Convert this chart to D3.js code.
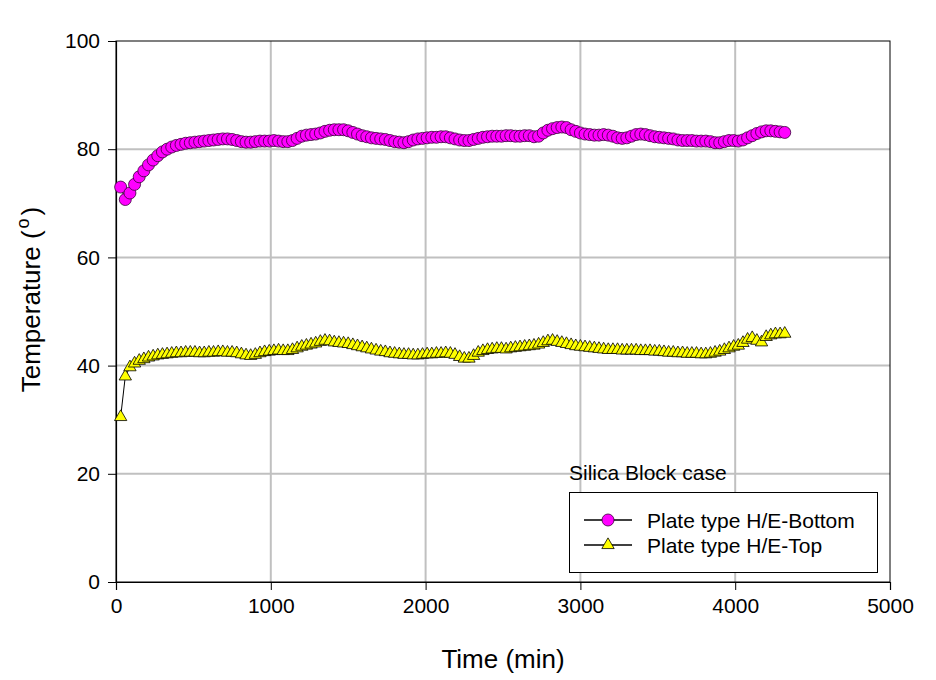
<!DOCTYPE html>
<html>
<head>
<meta charset="utf-8">
<script src="https://cdn.jsdelivr.net/npm/d3@7"></script>
<style>
  html, body { margin: 0; padding: 0; background: #fff; }
  svg { display: block; font-family: Arial, "Liberation Sans", sans-serif; }
</style>
</head>
<body>
<svg id="chart" width="936" height="680"></svg>
<script>
const timeMin = [
  30, 60, 90, 120, 150, 180, 210, 240, 270, 300,
  330, 360, 390, 420, 450, 480, 510, 540, 570, 600,
  630, 660, 690, 720, 750, 780, 810, 840, 870, 900,
  930, 960, 990, 1020, 1050, 1080, 1110, 1140, 1170, 1200,
  1230, 1260, 1290, 1320, 1350, 1380, 1410, 1440, 1470, 1500,
  1530, 1560, 1590, 1620, 1650, 1680, 1710, 1740, 1770, 1800,
  1830, 1860, 1890, 1920, 1950, 1980, 2010, 2040, 2070, 2100,
  2130, 2160, 2190, 2220, 2250, 2280, 2310, 2340, 2370, 2400,
  2430, 2460, 2490, 2520, 2550, 2580, 2610, 2640, 2670, 2700,
  2730, 2760, 2790, 2820, 2850, 2880, 2910, 2940, 2970, 3000,
  3030, 3060, 3090, 3120, 3150, 3180, 3210, 3240, 3270, 3300,
  3330, 3360, 3390, 3420, 3450, 3480, 3510, 3540, 3570, 3600,
  3630, 3660, 3690, 3720, 3750, 3780, 3810, 3840, 3870, 3900,
  3930, 3960, 3990, 4020, 4050, 4080, 4110, 4140, 4170, 4200,
  4230, 4260, 4290, 4320
];
const bottomTemp = [
  73.0, 70.7, 71.9, 73.5, 74.9, 76.0, 77.1, 78.0, 78.8, 79.5,
  80.0, 80.4, 80.7, 80.9, 81.1, 81.2, 81.3, 81.4, 81.5, 81.6,
  81.7, 81.8, 81.9, 81.9, 81.8, 81.6, 81.4, 81.3, 81.3, 81.4,
  81.5, 81.5, 81.5, 81.6, 81.5, 81.4, 81.4, 81.6, 82.0, 82.4,
  82.6, 82.7, 82.8, 83.0, 83.3, 83.5, 83.6, 83.6, 83.6, 83.4,
  83.1, 82.8, 82.5, 82.3, 82.1, 82.0, 81.9, 81.8, 81.6, 81.4,
  81.3, 81.2, 81.4, 81.7, 81.9, 82.0, 82.1, 82.2, 82.2, 82.3,
  82.3, 82.1, 81.9, 81.7, 81.6, 81.6, 81.8, 82.0, 82.2, 82.3,
  82.4, 82.4, 82.4, 82.5, 82.5, 82.4, 82.4, 82.5, 82.5, 82.3,
  82.4, 83.0, 83.5, 83.8, 84.0, 84.1, 84.0, 83.6, 83.3, 83.0,
  82.8, 82.7, 82.6, 82.6, 82.7, 82.6, 82.4, 82.1, 82.0, 82.1,
  82.4, 82.7, 82.8, 82.7, 82.5, 82.3, 82.2, 82.1, 82.0, 81.9,
  81.7, 81.6, 81.6, 81.6, 81.5, 81.5, 81.5, 81.4, 81.2, 81.2,
  81.4, 81.6, 81.6, 81.5, 81.7, 82.1, 82.5, 82.9, 83.2, 83.4,
  83.4, 83.3, 83.2, 83.1
];
const topTemp = [
  30.5, 38.0, 39.7, 40.4, 40.9, 41.2, 41.5, 41.7, 41.9, 42.0,
  42.1, 42.2, 42.3, 42.3, 42.4, 42.4, 42.4, 42.3, 42.3, 42.4,
  42.4, 42.5, 42.5, 42.4, 42.4, 42.3, 42.1, 41.9, 41.8, 42.0,
  42.3, 42.5, 42.6, 42.7, 42.8, 42.7, 42.7, 42.9, 43.2, 43.5,
  43.7, 43.9, 44.1, 44.4, 44.6, 44.5, 44.3, 44.2, 44.1, 44.0,
  43.8, 43.6, 43.4, 43.2, 43.0, 42.8, 42.6, 42.5, 42.3, 42.2,
  42.1, 42.0, 42.0, 41.9, 41.9, 42.0, 42.1, 42.1, 42.2, 42.2,
  42.3, 42.2, 42.0, 41.6, 41.3, 41.3, 41.8, 42.4, 42.7, 42.9,
  43.0, 43.1, 43.1, 43.0, 43.2, 43.3, 43.4, 43.5, 43.6, 43.7,
  43.9, 44.2, 44.5, 44.6, 44.4, 44.2, 44.0, 43.8, 43.6, 43.5,
  43.4, 43.3, 43.2, 43.1, 43.0, 42.9, 42.9, 42.9, 42.8, 42.8,
  42.8, 42.8, 42.7, 42.7, 42.7, 42.6, 42.6, 42.5, 42.4, 42.4,
  42.3, 42.3, 42.2, 42.2, 42.2, 42.1, 42.1, 42.2, 42.4, 42.6,
  42.9, 43.2, 43.5, 43.7, 44.2, 44.8, 45.1, 44.6, 44.3, 45.3,
  45.6, 45.8, 45.8, 45.9
];
const xTicks = [0, 1000, 2000, 3000, 4000, 5000];
const yTicks = [0, 20, 40, 60, 80, 100];
const seriesNames = ["Plate type H/E-Bottom", "Plate type H/E-Top"];
const annotation = "Silica Block case";

const svg = d3.select("#chart");
const L = 116, R = 890, T = 41, B = 582;
const x = d3.scaleLinear().domain([0, 5000]).range([L, R]);
const y = d3.scaleLinear().domain([0, 100]).range([B, T]);
const FONT = "Arial, 'Liberation Sans', sans-serif";

// gridlines
const grid = svg.append("g");
grid.selectAll("line.gx").data(xTicks.slice(1, -1)).join("line")
  .attr("x1", d => x(d)).attr("x2", d => x(d)).attr("y1", T).attr("y2", B)
  .attr("stroke", "#c0c0c0").attr("stroke-width", 2);
grid.selectAll("line.gy").data(yTicks.slice(1, -1)).join("line")
  .attr("y1", d => y(d)).attr("y2", d => y(d)).attr("x1", L).attr("x2", R)
  .attr("stroke", "#c0c0c0").attr("stroke-width", 2);

// frame
svg.append("rect").attr("x", L).attr("y", T).attr("width", R - L).attr("height", B - T)
  .attr("fill", "none").attr("stroke", "#000").attr("stroke-width", 1);

// axes
const xAxis = svg.append("g").attr("transform", `translate(0,${B})`)
  .call(d3.axisBottom(x).tickValues(xTicks).tickSize(8).tickPadding(8).tickFormat(d3.format("d")));
const yAxis = svg.append("g").attr("transform", `translate(${L},0)`)
  .call(d3.axisLeft(y).tickValues(yTicks).tickSize(8).tickPadding(8).tickFormat(d3.format("d")));
[xAxis, yAxis].forEach(a => {
  a.select(".domain").attr("stroke", "#000").attr("stroke-width", 1.2);
  a.selectAll(".tick line").attr("stroke", "#000");
  a.selectAll(".tick text").attr("font-size", 21).attr("fill", "#000").attr("font-family", FONT);
});

// axis titles
svg.append("text").attr("x", 503).attr("y", 668).attr("text-anchor", "middle")
  .attr("font-size", 26).text("Time (min)");
const yl = svg.append("text").attr("transform", `translate(40,${(T + B) / 2 - 12}) rotate(-90)`)
  .attr("text-anchor", "middle").attr("font-size", 26);
yl.append("tspan").text("Temperature (");
yl.append("tspan").attr("font-size", 18).attr("dy", -11).attr("dx", 2).text("o");
yl.append("tspan").attr("dy", 11).attr("dx", 3).text(")");

const dataB = timeMin.map((t, i) => ({ t, v: bottomTemp[i] }));
const dataT = timeMin.map((t, i) => ({ t, v: topTemp[i] }));
const line = d3.line().x(d => x(d.t)).y(d => y(d.v));
const triSym = d3.symbol().type(d3.symbolTriangle).size(66);

// bottom series
svg.append("path").datum(dataB).attr("d", line).attr("fill", "none").attr("stroke", "#000").attr("stroke-width", 1);
svg.append("g").selectAll("circle").data(dataB).join("circle")
  .attr("cx", d => x(d.t)).attr("cy", d => y(d.v)).attr("r", 6)
  .attr("fill", "#ff00ff").attr("stroke", "#3a003a").attr("stroke-width", 0.8);

// top series
svg.append("path").datum(dataT).attr("d", line).attr("fill", "none").attr("stroke", "#000").attr("stroke-width", 1);
svg.append("g").selectAll("path").data(dataT).join("path")
  .attr("d", triSym).attr("transform", d => `translate(${x(d.t)},${y(d.v)})`)
  .attr("fill", "#ffff00").attr("stroke", "#000").attr("stroke-width", 0.8);

// annotation
svg.append("text").attr("x", 569).attr("y", 480).attr("font-size", 21).text(annotation);

// legend
const lg = svg.append("g");
lg.append("rect").attr("x", 569.5).attr("y", 492.5).attr("width", 308).attr("height", 80)
  .attr("fill", "#fff").attr("stroke", "#000").attr("stroke-width", 1);
const entries = [
  { name: seriesNames[0], y: 520, kind: "circle" },
  { name: seriesNames[1], y: 545, kind: "tri" }
];
entries.forEach(e => {
  lg.append("line").attr("x1", 584).attr("x2", 632).attr("y1", e.y).attr("y2", e.y)
    .attr("stroke", "#000").attr("stroke-width", 1.6);
  if (e.kind === "circle") {
    lg.append("circle").attr("cx", 608).attr("cy", e.y).attr("r", 6)
      .attr("fill", "#ff00ff").attr("stroke", "#3a003a").attr("stroke-width", 0.8);
  } else {
    lg.append("path").attr("d", triSym).attr("transform", `translate(608,${e.y})`)
      .attr("fill", "#ffff00").attr("stroke", "#000").attr("stroke-width", 0.8);
  }
  lg.append("text").attr("x", 647).attr("y", e.y + 7.5).attr("font-size", 21).text(e.name);
});
</script>
</body>
</html>
